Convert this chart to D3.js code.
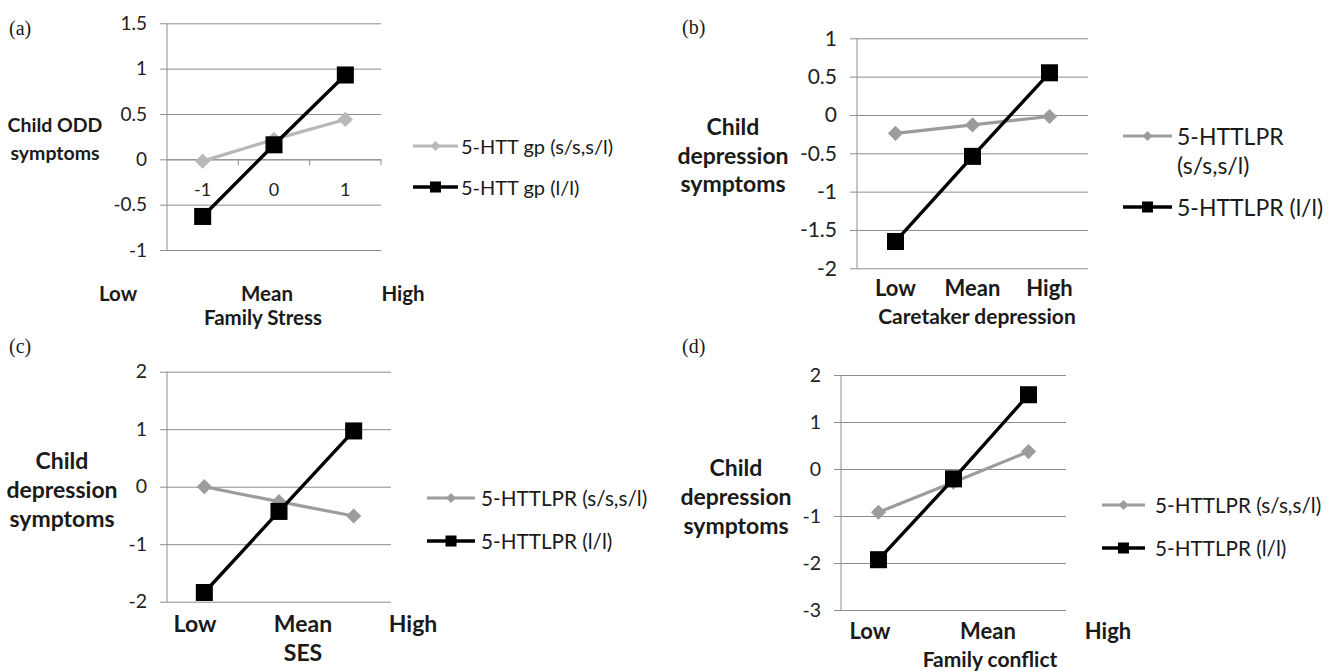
<!DOCTYPE html>
<html><head><meta charset="utf-8">
<script src="https://cdn.jsdelivr.net/npm/d3@7"></script>
<style>body{margin:0;background:#fff}svg{display:block}</style>
</head><body><svg id="c" width="1335" height="671"></svg>
<script>
// ---------- data ----------
const categories = ["Low", "Mean", "High"];
const aCategoryTicks = ["-1", "0", "1"];

const aSeriesNames = ["5-HTT gp (s/s,s/l)", "5-HTT gp (l/l)"];
const aShort = [-0.02, 0.22, 0.44];
const aLong = [-0.63, 0.16, 0.93];

const bSeriesNames = ["5-HTTLPR (s/s,s/l)", "5-HTTLPR (l/l)"];
const bShort = [-0.24, -0.13, -0.02];
const bLong = [-1.65, -0.54, 0.55];

const cSeriesNames = ["5-HTTLPR (s/s,s/l)", "5-HTTLPR (l/l)"];
const cShort = [0.0, -0.26, -0.51];
const cLong = [-1.84, -0.43, 0.97];

const dSeriesNames = ["5-HTTLPR (s/s,s/l)", "5-HTTLPR (l/l)"];
const dShort = [-0.92, -0.28, 0.37];
const dLong = [-1.93, -0.21, 1.58];

const aYTicks = [-1, -0.5, 0, 0.5, 1, 1.5];
const bYTicks = [-2, -1.5, -1, -0.5, 0, 0.5, 1];
const cYTicks = [-2, -1, 0, 1, 2];
const dYTicks = [-3, -2, -1, 0, 1, 2];

// ---------- layout ----------
const svg = d3.select("#c");
const FONT = "Lato, 'Open Sans', sans-serif";
const GRID = "#8c8c8c";
const INK = "#1a1a1a";

const panels = [
  { tag: "(a)", tagX: 9, tagY: 28, left: 167, right: 381, top: 23.3, bottom: 250,
    ydom: [-1, 1.5], yticks: aYTicks, short: aShort, long: aLong, names: aSeriesNames,
    grayColor: "#b8b8b8", fTick: 19, fY: 19.5, fCat: 20.5, fTitle: 20.5, fLeg: 20,
    xAxisAt: 0, catLabels: aCategoryTicks,
    yLabel: ["Child ODD", "symptoms"], yLabelX: 55, yLabelY: [124, 152],
    freeLabels: { y: 293, xs: [118, 267, 403] }, title: "Family Stress", titleX: 263, titleY: 317,
    legX: 413, legW: 45, legTextX: 461, legY: [146, 187], legLines: [[aSeriesNames[0]], [aSeriesNames[1]]] },
  { tag: "(b)", tagX: 682, tagY: 27, left: 857, right: 1088, top: 38.3, bottom: 268.3,
    ydom: [-2, 1], yticks: bYTicks, short: bShort, long: bLong, names: bSeriesNames,
    grayColor: "#9c9c9c", fTick: 21, fY: 23, fCat: 22, fTitle: 21, fLeg: 23,
    xAxisAt: null, catLabels: categories, catLabelY: 287,
    yLabel: ["Child", "depression", "symptoms"], yLabelX: 733, yLabelY: [126, 155, 183],
    freeLabels: null, title: "Caretaker depression", titleX: 977, titleY: 315,
    legX: 1123, legW: 49, legTextX: 1177, legY: [136, 207], legLines: [["5-HTTLPR", "(s/s,s/l)"], [bSeriesNames[1]]] },
  { tag: "(c)", tagX: 9, tagY: 346, left: 167, right: 391, top: 371.7, bottom: 601.7,
    ydom: [-2, 2], yticks: cYTicks, short: cShort, long: cLong, names: cSeriesNames,
    grayColor: "#9c9c9c", fTick: 19.5, fY: 23, fCat: 23, fTitle: 23, fLeg: 20.7,
    xAxisAt: null, catLabels: null,
    yLabel: ["Child", "depression", "symptoms"], yLabelX: 62, yLabelY: [460, 489, 518],
    freeLabels: { y: 623, xs: [195, 303, 413] }, title: "SES", titleX: 303, titleY: 652,
    legX: 427, legW: 48, legTextX: 481, legY: [498, 541], legLines: [[cSeriesNames[0]], [cSeriesNames[1]]] },
  { tag: "(d)", tagX: 682, tagY: 346, left: 841, right: 1066, top: 375, bottom: 610,
    ydom: [-3, 2], yticks: dYTicks, short: dShort, long: dLong, names: dSeriesNames,
    grayColor: "#9c9c9c", fTick: 19.5, fY: 23, fCat: 22, fTitle: 21, fLeg: 20.7,
    xAxisAt: null, catLabels: null,
    yLabel: ["Child", "depression", "symptoms"], yLabelX: 736, yLabelY: [467, 496, 525],
    freeLabels: { y: 630, xs: [870, 988, 1108] }, title: "Family conflict", titleX: 990, titleY: 658,
    legX: 1102, legW: 43, legTextX: 1155, legY: [505, 548], legLines: [[dSeriesNames[0]], [dSeriesNames[1]]] }
];

const square = d3.symbol().type(d3.symbolSquare);

function drawPanel(p) {
  const g = svg.append("g");
  const x = d3.scaleBand().domain(categories).range([p.left, p.right]).padding(0);
  const y = d3.scaleLinear().domain(p.ydom).range([p.bottom, p.top]);

  // panel tag
  g.append("text").attr("x", p.tagX).attr("y", p.tagY).attr("dominant-baseline", "central")
    .attr("font-family", "'Liberation Serif', 'DejaVu Serif', serif").attr("font-size", 20)
    .attr("fill", INK).text(p.tag);

  // y gridlines + labels
  const yAxis = d3.axisLeft(y).tickValues(p.yticks).tickSize(-(p.right - p.left + 7))
    .tickPadding(13).tickFormat(d => String(d));
  const ya = g.append("g").attr("transform", `translate(${p.left - 7},0)`).call(yAxis);
  ya.select(".domain").remove();
  ya.selectAll(".tick line").attr("stroke", GRID).attr("stroke-width", 1);
  ya.selectAll(".tick text").attr("font-family", FONT).attr("font-size", p.fTick).attr("fill", "#222");

  // vertical axis line
  g.append("line").attr("x1", p.left).attr("x2", p.left).attr("y1", y(p.ydom[1])).attr("y2", y(p.ydom[0]))
    .attr("stroke", GRID).attr("stroke-width", 1);

  // category axis
  if (p.xAxisAt !== null) {
    const xAxis = d3.axisBottom(x).tickSize(0).tickPadding(24)
      .tickFormat((d, i) => p.catLabels[i]);
    const xa = g.append("g").attr("transform", `translate(0,${y(p.xAxisAt)})`).call(xAxis);
    xa.select(".domain").attr("stroke", GRID);
    xa.selectAll(".tick text").attr("font-family", FONT).attr("font-size", 18).attr("fill", "#222");
    g.selectAll(null).data(categories).enter().append("line")
      .attr("x1", d => x(d) + x.bandwidth()).attr("x2", d => x(d) + x.bandwidth())
      .attr("y1", y(p.xAxisAt)).attr("y2", y(p.xAxisAt) + 6)
      .attr("stroke", GRID);
  } else if (p.catLabels) {
    g.selectAll(null).data(p.catLabels).enter().append("text")
      .attr("x", d => x(d) + x.bandwidth() / 2).attr("y", p.catLabelY)
      .attr("text-anchor", "middle").attr("dominant-baseline", "central")
      .attr("font-family", FONT).attr("font-weight", "bold").attr("font-size", p.fCat).attr("fill", INK)
      .text(d => d);
  }

  // free floating Low/Mean/High
  if (p.freeLabels) {
    g.selectAll(null).data(categories).enter().append("text")
      .attr("x", (d, i) => p.freeLabels.xs[i]).attr("y", p.freeLabels.y)
      .attr("text-anchor", "middle").attr("dominant-baseline", "central")
      .attr("font-family", FONT).attr("font-weight", "bold").attr("font-size", p.fCat).attr("fill", INK)
      .text(d => d);
  }

  // x title
  g.append("text").attr("x", p.titleX).attr("y", p.titleY).attr("text-anchor", "middle")
    .attr("dominant-baseline", "central").attr("font-family", FONT)
    .attr("font-weight", "bold").attr("font-size", p.fTitle).attr("fill", INK)
    .text(p.title);

  // y title
  g.selectAll(null).data(p.yLabel).enter().append("text")
    .attr("x", p.yLabelX).attr("y", (d, i) => p.yLabelY[i]).attr("text-anchor", "middle")
    .attr("dominant-baseline", "central").attr("font-family", FONT).attr("font-weight", "bold")
    .attr("font-size", p.fY).attr("fill", INK).text(d => d);

  const cx = d => x(d) + x.bandwidth() / 2;
  const line = d3.line().x((v, i) => cx(categories[i])).y(v => y(v));

  // gray series (diamonds)
  g.append("path").datum(p.short).attr("d", line).attr("fill", "none")
    .attr("stroke", p.grayColor).attr("stroke-width", 3.2);
  g.selectAll(null).data(p.short).enter().append("path")
    .attr("d", square.size(115)())
    .attr("transform", (v, i) => `translate(${cx(categories[i])},${y(v)}) rotate(45)`)
    .attr("fill", p.grayColor);

  // black series (squares)
  g.append("path").datum(p.long).attr("d", line).attr("fill", "none")
    .attr("stroke", "#000").attr("stroke-width", 3.4);
  g.selectAll(null).data(p.long).enter().append("path")
    .attr("d", square.size(290)())
    .attr("transform", (v, i) => `translate(${cx(categories[i])},${y(v)})`)
    .attr("fill", "#000");

  // legend
  const colors = [p.grayColor, "#000"];
  p.legY.forEach((ly, k) => {
    g.append("line").attr("x1", p.legX).attr("x2", p.legX + p.legW).attr("y1", ly).attr("y2", ly)
      .attr("stroke", colors[k]).attr("stroke-width", k ? 3.4 : 3.2);
    const mx = p.legX + p.legW / 2;
    if (k === 0) {
      g.append("path").attr("d", square.size(50)()).attr("transform", `translate(${mx},${ly}) rotate(45)`)
        .attr("fill", colors[k]);
    } else {
      g.append("path").attr("d", square.size(121)()).attr("transform", `translate(${mx},${ly})`)
        .attr("fill", colors[k]);
    }
    p.legLines[k].forEach((t, j) => {
      g.append("text").attr("x", p.legTextX).attr("y", ly + j * 29).attr("dominant-baseline", "central")
        .attr("font-family", FONT).attr("font-size", p.fLeg).attr("fill", INK).text(t);
    });
  });
}

panels.forEach(drawPanel);
</script>
</body></html>
